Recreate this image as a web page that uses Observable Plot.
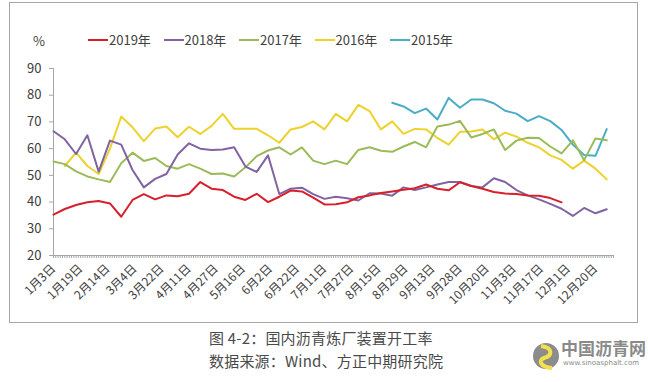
<!DOCTYPE html>
<html><head><meta charset="utf-8">
<script src="https://cdn.jsdelivr.net/npm/d3@7"></script>
<script src="https://cdn.jsdelivr.net/npm/@observablehq/plot@0.6"></script>
<style>
body{margin:0;background:#fff;font-family:"Noto Sans CJK SC","Noto Sans",sans-serif;}
#wrap{position:relative;width:648px;height:382px;overflow:hidden;}
#box{position:absolute;left:9px;top:2px;width:629px;height:321px;border:1px solid #a6a6a6;box-sizing:border-box;}
#chart{position:absolute;left:0;top:0;}
.pct{position:absolute;left:33px;top:31px;font-size:13px;color:#404040;}
.leg{position:absolute;top:31px;font-size:13px;color:#404040;white-space:nowrap;line-height:18px;}
.leg i{display:inline-block;width:20px;height:2px;vertical-align:middle;margin-right:1px;position:relative;top:-1px;}
.cap{position:absolute;left:209px;font-size:15px;color:#4a4a4a;white-space:nowrap;letter-spacing:0.2px;}
.wm{position:absolute;left:532px;top:341px;}
.wmt{position:absolute;left:561px;top:339px;font-size:17px;line-height:18px;font-weight:bold;color:#8a8a8a;white-space:nowrap;}
.wms{position:absolute;left:563px;top:359px;font-size:7px;line-height:8px;color:#8a8a8a;white-space:nowrap;font-family:"DejaVu Sans",sans-serif;}
</style></head>
<body>
<div id="wrap">
  <div id="box"></div>
  <div id="chart"></div>
  <div class="pct">%</div>
  <div id="legend"></div>
  <div class="cap" style="top:327px">图 4-2：国内沥青炼厂装置开工率</div>
  <div class="cap" style="top:350px">数据来源：Wind、方正中期研究院</div>
  <svg class="wm" width="28" height="30" viewBox="0 0 28 30">
    <circle cx="14" cy="15" r="13" fill="#8c8c8c"/>
    <path d="M9 5 C22 7 20 15 12 17 C6 19 8 26 20 27" stroke="#f2e14c" stroke-width="4" fill="none"/>
  </svg>
  <div class="wmt">中国沥青网</div>
  <div class="wms">www.sinoasphalt.com</div>
</div>
<script>
// x-axis category labels (every 12 trading days)
const dateLabels = ["1月3日","1月19日","2月14日","3月4日","3月22日","4月11日","4月27日","5月16日","6月2日","6月22日","7月11日","7月27日","8月15日","8月29日","9月13日","9月28日","10月20日","11月3日","11月17日","12月1日","12月20日"];
const years = ["2019年","2018年","2017年","2016年","2015年"];
const colors = ["#D7202B","#8064A2","#9BBB59","#EDD12C","#4BACC6"];
const yTicks = [20,30,40,50,60,70,80,90];

// weekly values (%), one entry per week
const s2019 = [35.3,37.4,38.9,39.9,40.4,39.5,34.5,40.8,43,41,42.5,42.2,43.1,47.5,45,44.5,42,40.8,43.1,40,42,44.3,44,41.7,39.1,39.2,39.9,41.8,42.5,43.4,44,44.6,45.2,46.6,45,44.4,47.4,46,45,43.8,43.2,43,42.5,42.4,41.5,39.9,null,null,null,null];
const s2018 = [66.5,63.5,58,65,51.4,63,61.5,52,45.5,48.7,50.5,57.8,62,60,59.5,59.7,60.5,53.3,51.3,57.5,43,45,45.4,43,41.2,42,41.4,40.6,43.3,43.2,42.4,45.5,44.5,45.5,46.6,47.5,47.5,46,45.5,48.9,47.5,44.5,42.5,41,39.3,37.5,34.8,37.8,35.8,37.3];
const s2017 = [55.2,54.2,51.5,49.6,48.5,47.5,54.5,58.5,55.4,56.5,53.5,52.5,54.2,52.5,50.5,50.7,49.6,53,57.2,59.3,60.5,57.8,60.5,55.5,54.2,55.5,54.2,59.5,60.5,59.2,58.8,60.8,62.5,60.5,68.3,69,70.4,64.2,65.5,67.2,59.5,63,64.1,64,60.8,58.2,63.1,55.7,63.8,63.1];
const s2016 = [null,53.5,58.5,53.5,50.5,60,72,68,62.8,67.5,68.3,64.3,68.2,65.5,68.5,73,67.4,67.4,67.4,65,62.2,67.2,68.1,70.2,67.2,73,70.2,76.4,74,67.2,70.2,65.5,67.4,67.2,64,61.5,66.3,66.4,67.2,63.5,66,64.5,62.2,60.5,57.5,55.8,52.5,55.5,52.5,48.5];
const s2015 = [null,null,null,null,null,null,null,null,null,null,null,null,null,null,null,null,null,null,null,null,null,null,null,null,null,null,null,null,null,null,77.2,75.8,73.3,75,70.9,79,75.3,78.4,78.4,77,74.2,73.1,70.3,72.2,70.3,67,61.5,57.6,57.3,67.3];

const series = [s2019,s2018,s2017,s2016,s2015];
const rows = [];
// draw 2015 first so 2019 ends up on top
for (let j = series.length - 1; j >= 0; j--) {
  series[j].forEach((v, k) => { if (v != null) rows.push({year: years[j], day: k * 5, v}); });
}
const dayTicks = d3.range(0, 249);
const labelTicks = dateLabels.map((d, i) => i * 12);

const plot = Plot.plot({
  width: 648, height: 322,
  marginLeft: 53, marginRight: 35, marginTop: 68, marginBottom: 67,
  style: {background: "transparent", fontFamily: "'Noto Sans CJK SC','Noto Sans',sans-serif", color: "#404040"},
  x: {domain: [0, 248]},
  y: {domain: [20, 90]},
  color: {domain: years, range: colors},
  marks: [
    Plot.axisY({ticks: yTicks, tickSize: 4, tickPadding: 8, fontSize: 13, label: null, stroke: "#a6a6a6"}),
    Plot.axisX({ticks: dayTicks, tickSize: 3, tickFormat: () => "", label: null, stroke: "#a6a6a6"}),
    Plot.axisX({ticks: labelTicks, tickSize: 0, tickPadding: 11, tickRotate: -45, fontSize: 12, label: null,
      tickFormat: d => dateLabels[d / 12]}),
    Plot.ruleX([0], {stroke: "#a6a6a6"}),
    Plot.ruleY([20], {stroke: "#a6a6a6"}),
    Plot.line(rows, {x: "day", y: "v", z: "year", stroke: "year", strokeWidth: 2, curve: "linear"})
  ]
});
document.getElementById("chart").appendChild(plot);

// legend
const leg = document.getElementById("legend");
years.forEach((y, i) => {
  const d = document.createElement("div");
  d.className = "leg";
  d.style.left = (88 + i * 75.5) + "px";
  d.innerHTML = `<i style="background:${colors[i]}"></i>${y}`;
  leg.appendChild(d);
});
</script>
</body></html>
